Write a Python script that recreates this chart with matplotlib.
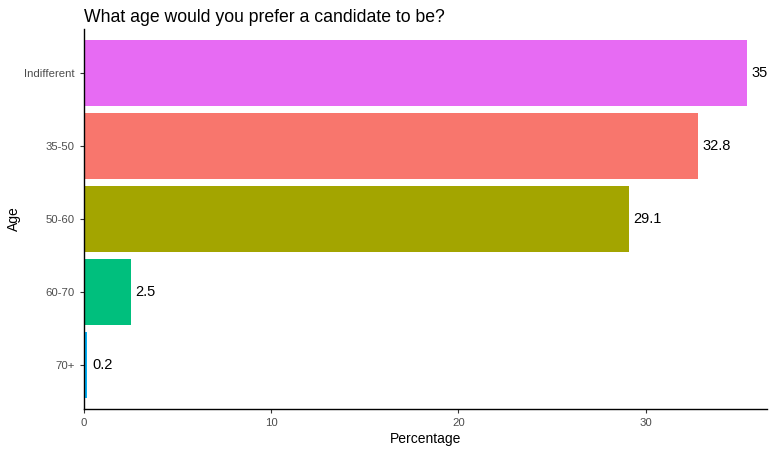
import matplotlib
matplotlib.use("Agg")
import matplotlib.pyplot as plt

categories = ["70+", "60-70", "50-60", "35-50", "Indifferent"]
values = [0.2, 2.5, 29.1, 32.8, 35.4]
labels = ["0.2", "2.5", "29.1", "32.8", "35"]
colors = ["#00B0F6", "#00BF7D", "#A3A500", "#F8766D", "#E76BF3"]
xticks = [0, 10, 20, 30]

plt.rcParams['font.family'] = ['Liberation Sans', 'DejaVu Sans']

fig = plt.figure(figsize=(7.74, 4.53), dpi=100)
ax = fig.add_axes([83.7/774, (453-409)/453, (766.7-83.7)/774, (409-29)/453])

ypos = list(range(len(categories)))
ax.barh(ypos, values, height=0.9, color=colors)
for y, v, t in zip(ypos, values, labels):
    ax.text(v + 0.25, y, t, ha='left', va='center', fontsize=10.5, color='black')

ax.set_xlim(0, 36.46)
ax.set_ylim(-0.6, len(categories) - 0.4)
ax.set_yticks(ypos)
ax.set_yticklabels(categories)
ax.set_xticks(xticks)
ax.tick_params(axis='both', colors='#333333', labelcolor='#4D4D4D', labelsize=8.2, length=3, width=0.8)
for s in ['top', 'right']:
    ax.spines[s].set_visible(False)
for s in ['left', 'bottom']:
    ax.spines[s].set_color('black')
    ax.spines[s].set_linewidth(1.0)

ax.set_xlabel("Percentage", fontsize=10, color='black', labelpad=3)
ax.set_ylabel("Age", fontsize=10, color='black', labelpad=2)
fig.text(83.7/774, 1 - 17/453, "What age would you prefer a candidate to be?", fontsize=12.7,
         ha='left', va='center', color='black')

fig.savefig("out.png", dpi=100)
